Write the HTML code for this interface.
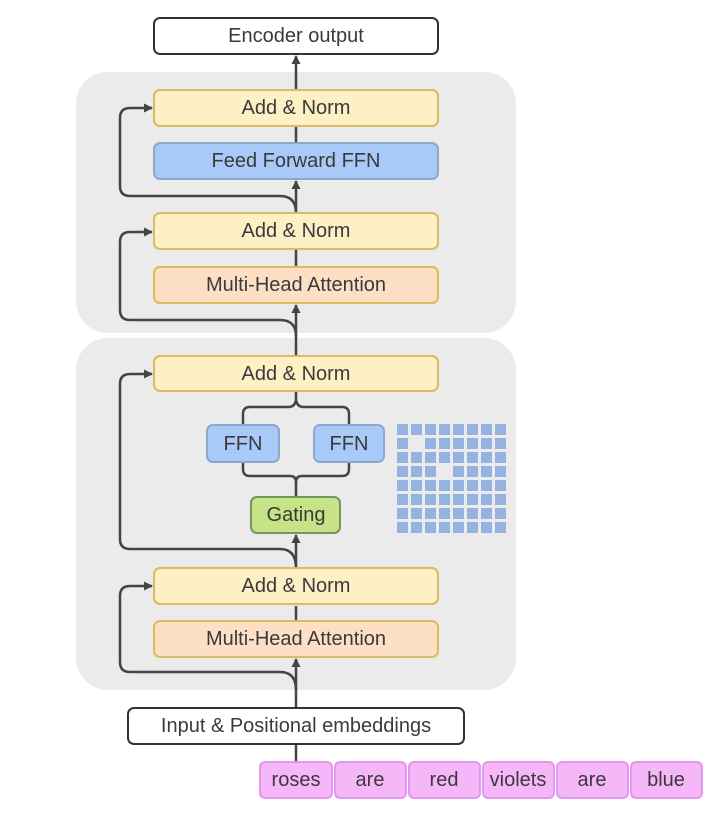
<!DOCTYPE html>
<html><head><meta charset="utf-8"><style>
body{margin:0;background:#fff;}
text{font-family:"Liberation Sans",sans-serif;fill:#3a3a3a;text-anchor:middle;dominant-baseline:central;}
</style></head><body>
<svg width="720" height="818" viewBox="0 0 720 818" xmlns="http://www.w3.org/2000/svg">
<defs><marker id="a" markerWidth="9" markerHeight="9" refX="8" refY="4.5" orient="auto" markerUnits="userSpaceOnUse"><path d="M0,0 L9,4.5 L0,9 z" fill="#444"/></marker></defs>
<rect x="76" y="72" width="440" height="261" rx="32" fill="#ebebeb"/>
<rect x="76" y="338" width="440" height="352" rx="32" fill="#ebebeb"/>
<g stroke="#444" stroke-width="2.5" fill="none">
<path d="M296 762 V712"/>
<path d="M296 708 V675 M296 690 V659" marker-end="url(#a)"/>
<path d="M296 620 V606"/>
<path d="M296 568 V535" marker-end="url(#a)"/>
<path d="M296 690 Q296 672 280 672 H130 Q120 672 120 662 V596 Q120 586 130 586 H152" marker-end="url(#a)"/>
<path d="M296 568 Q296 549 280 549 H130 Q120 549 120 539 V384 Q120 374 130 374 H152" marker-end="url(#a)"/>
<path d="M296 497 V482 M296 482 Q296 476 290 476 H250 Q243 476 243 469 V462 M296 482 Q296 476 302 476 H342 Q349 476 349 469 V462"/>
<path d="M243 425 V414 Q243 407 250 407 H288 Q296 407 296 398 V392 M349 425 V414 Q349 407 342 407 H304 Q296 407 296 398"/>
<path d="M296 356 V305" marker-end="url(#a)"/>
<path d="M296 336 Q296 320 280 320 H130 Q120 320 120 310 V242 Q120 232 130 232 H152" marker-end="url(#a)"/>
<path d="M296 267 V250"/>
<path d="M296 213 V181" marker-end="url(#a)"/>
<path d="M296 213 Q296 196 280 196 H130 Q120 196 120 186 V118 Q120 108 130 108 H152" marker-end="url(#a)"/>
<path d="M296 143 V127"/>
<path d="M296 90 V56" marker-end="url(#a)"/>
</g>
<g stroke-width="2">
<rect x="154" y="18" width="284" height="36" rx="6" fill="#fff" stroke="#333"/>
<rect x="154" y="90" width="284" height="36" rx="6" fill="#fdf0c5" stroke="#dcbb5e"/>
<rect x="154" y="143" width="284" height="36" rx="6" fill="#a9c9f9" stroke="#8ea8cc"/>
<rect x="154" y="213" width="284" height="36" rx="6" fill="#fdf0c5" stroke="#dcbb5e"/>
<rect x="154" y="267" width="284" height="36" rx="6" fill="#fcdfc5" stroke="#dcbb5e"/>
<rect x="154" y="356" width="284" height="35" rx="6" fill="#fdf0c5" stroke="#dcbb5e"/>
<rect x="207" y="425" width="72" height="37" rx="6" fill="#a9c9f9" stroke="#8ea8cc"/>
<rect x="314" y="425" width="70" height="37" rx="6" fill="#a9c9f9" stroke="#8ea8cc"/>
<rect x="251" y="497" width="89" height="36" rx="6" fill="#c6e387" stroke="#6f9a5a"/>
<rect x="154" y="568" width="284" height="36" rx="6" fill="#fdf0c5" stroke="#dcbb5e"/>
<rect x="154" y="621" width="284" height="36" rx="6" fill="#fcdfc5" stroke="#dcbb5e"/>
<rect x="128" y="708" width="336" height="36" rx="6" fill="#fff" stroke="#333"/>
<g fill="#f6b7f9" stroke="#e097ec">
<rect x="260" y="762" width="72" height="36" rx="5"/><rect x="335" y="762" width="71" height="36" rx="5"/>
<rect x="409" y="762" width="71" height="36" rx="5"/><rect x="483" y="762" width="71" height="36" rx="5"/>
<rect x="557" y="762" width="71" height="36" rx="5"/><rect x="631" y="762" width="71" height="36" rx="5"/>
</g></g>
<g font-size="20">
<text x="296" y="36">Encoder output</text>
<text x="296" y="108">Add &amp; Norm</text>
<text x="296" y="161">Feed Forward FFN</text>
<text x="296" y="231">Add &amp; Norm</text>
<text x="296" y="285">Multi-Head Attention</text>
<text x="296" y="374">Add &amp; Norm</text>
<text x="243" y="444">FFN</text>
<text x="349" y="444">FFN</text>
<text x="296" y="515">Gating</text>
<text x="296" y="586">Add &amp; Norm</text>
<text x="296" y="639">Multi-Head Attention</text>
<text x="296" y="726">Input &amp; Positional embeddings</text>
<text x="296" y="780">roses</text><text x="370" y="780">are</text><text x="444" y="780">red</text>
<text x="518" y="780">violets</text><text x="592" y="780">are</text><text x="666" y="780">blue</text>
</g>
<g fill="#96b2e0">
<rect x="397" y="424" width="11" height="11"/><rect x="411" y="424" width="11" height="11"/><rect x="425" y="424" width="11" height="11"/><rect x="439" y="424" width="11" height="11"/><rect x="453" y="424" width="11" height="11"/><rect x="467" y="424" width="11" height="11"/><rect x="481" y="424" width="11" height="11"/><rect x="495" y="424" width="11" height="11"/>
<rect x="397" y="438" width="11" height="11"/><rect x="425" y="438" width="11" height="11"/><rect x="439" y="438" width="11" height="11"/><rect x="453" y="438" width="11" height="11"/><rect x="467" y="438" width="11" height="11"/><rect x="481" y="438" width="11" height="11"/><rect x="495" y="438" width="11" height="11"/>
<rect x="397" y="452" width="11" height="11"/><rect x="411" y="452" width="11" height="11"/><rect x="425" y="452" width="11" height="11"/><rect x="439" y="452" width="11" height="11"/><rect x="453" y="452" width="11" height="11"/><rect x="467" y="452" width="11" height="11"/><rect x="481" y="452" width="11" height="11"/><rect x="495" y="452" width="11" height="11"/>
<rect x="397" y="466" width="11" height="11"/><rect x="411" y="466" width="11" height="11"/><rect x="425" y="466" width="11" height="11"/><rect x="453" y="466" width="11" height="11"/><rect x="467" y="466" width="11" height="11"/><rect x="481" y="466" width="11" height="11"/><rect x="495" y="466" width="11" height="11"/>
<rect x="397" y="480" width="11" height="11"/><rect x="411" y="480" width="11" height="11"/><rect x="425" y="480" width="11" height="11"/><rect x="439" y="480" width="11" height="11"/><rect x="453" y="480" width="11" height="11"/><rect x="467" y="480" width="11" height="11"/><rect x="481" y="480" width="11" height="11"/><rect x="495" y="480" width="11" height="11"/>
<rect x="397" y="494" width="11" height="11"/><rect x="411" y="494" width="11" height="11"/><rect x="425" y="494" width="11" height="11"/><rect x="439" y="494" width="11" height="11"/><rect x="453" y="494" width="11" height="11"/><rect x="467" y="494" width="11" height="11"/><rect x="481" y="494" width="11" height="11"/><rect x="495" y="494" width="11" height="11"/>
<rect x="397" y="508" width="11" height="11"/><rect x="411" y="508" width="11" height="11"/><rect x="425" y="508" width="11" height="11"/><rect x="439" y="508" width="11" height="11"/><rect x="453" y="508" width="11" height="11"/><rect x="467" y="508" width="11" height="11"/><rect x="481" y="508" width="11" height="11"/><rect x="495" y="508" width="11" height="11"/>
<rect x="397" y="522" width="11" height="11"/><rect x="411" y="522" width="11" height="11"/><rect x="425" y="522" width="11" height="11"/><rect x="439" y="522" width="11" height="11"/><rect x="453" y="522" width="11" height="11"/><rect x="467" y="522" width="11" height="11"/><rect x="481" y="522" width="11" height="11"/><rect x="495" y="522" width="11" height="11"/>
</g>
</svg>
</body></html>
